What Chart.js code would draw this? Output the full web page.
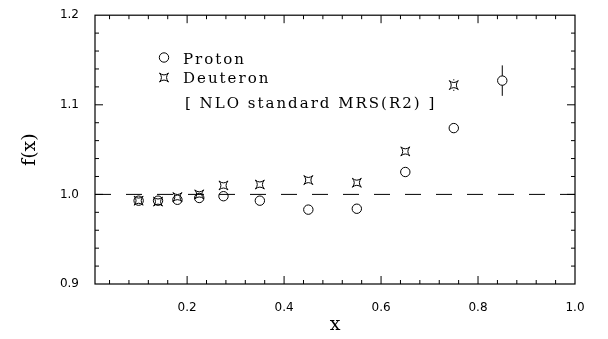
<!DOCTYPE html>
<html>
<head>
<meta charset="utf-8">
<script src="https://cdn.jsdelivr.net/npm/chart.js@4.4.1/dist/chart.umd.min.js"></script>
<style>
  html, body { margin: 0; padding: 0; background: #fff; }
  #wrap { width: 608px; height: 339px; }
</style>
</head>
<body>
<div id="wrap"><canvas id="fxChart" width="608" height="339"></canvas></div>
<script>
// x values of the measurements
const protonX = [0.10, 0.14, 0.18, 0.225, 0.275, 0.35, 0.45, 0.55, 0.65, 0.75, 0.85];
const protonF = [0.993, 0.993, 0.994, 0.996, 0.998, 0.993, 0.983, 0.984, 1.025, 1.074, 1.127];
const protonErr = [0, 0, 0, 0, 0, 0, 0, 0, 0, 0, 0.017];

const deuteronX = [0.10, 0.14, 0.18, 0.225, 0.275, 0.35, 0.45, 0.55, 0.65, 0.75];
const deuteronF = [0.993, 0.992, 0.997, 1.000, 1.010, 1.011, 1.016, 1.013, 1.048, 1.122];
const deuteronErr = [0, 0, 0, 0, 0, 0, 0, 0, 0, 0.0065];

// reference line f(x) = 1
const refX = [0.01, 1.0];
const refF = [1.0, 1.0];

const xTickLabels = [0.2, 0.4, 0.6, 0.8, 1.0];
const yTickLabels = [0.9, 1.0, 1.1, 1.2];

const legendLabels = ['Proton', 'Deuteron'];
const noteText = '[ NLO standard MRS(R2) ]';

const ink = '#000';
const R = 4.7;

function pts(xs, ys) {
    return xs.map((x, i) => ({x: x, y: ys[i]}));
}

// concave square marker used for the deuteron
function drawStar(ctx, cx, cy) {
    const a = 4.5, c = 0.6;
    ctx.beginPath();
    ctx.moveTo(cx - a, cy - a);
    ctx.quadraticCurveTo(cx, cy - c, cx + a, cy - a);
    ctx.quadraticCurveTo(cx + c, cy, cx + a, cy + a);
    ctx.quadraticCurveTo(cx, cy + c, cx - a, cy + a);
    ctx.quadraticCurveTo(cx - c, cy, cx - a, cy - a);
    ctx.stroke();
}

const frameTicks = {
    id: 'frameTicks',
    afterDraw(chart) {
        const {ctx, chartArea: a, scales: {x, y}} = chart;
        ctx.save();
        ctx.strokeStyle = ink;
        ctx.lineWidth = 1.2;
        ctx.strokeRect(a.left, a.top, a.right - a.left, a.bottom - a.top);
        ctx.lineWidth = 1;
        ctx.beginPath();
        for (let k = 1; k <= 24; k++) {
            const v = k * 0.04;
            const px = x.getPixelForValue(v);
            const len = (k % 5 === 0) ? 8 : 4;
            ctx.moveTo(px, a.bottom); ctx.lineTo(px, a.bottom - len);
            ctx.moveTo(px, a.top); ctx.lineTo(px, a.top + len);
        }
        for (let k = 1; k < 15; k++) {
            const v = 0.9 + k * 0.02;
            const py = y.getPixelForValue(v);
            const len = (k % 5 === 0) ? 8 : 4;
            ctx.moveTo(a.left, py); ctx.lineTo(a.left + len, py);
            ctx.moveTo(a.right, py); ctx.lineTo(a.right - len, py);
        }
        ctx.stroke();
        ctx.restore();
    }
};

// deuteron markers + error bars, placed from the dataset elements
const markers = {
    id: 'markers',
    afterDatasetsDraw(chart) {
        const {ctx, scales: {x, y}} = chart;
        ctx.save();
        ctx.strokeStyle = ink;
        ctx.lineWidth = 1;
        chart.getDatasetMeta(2).data.forEach(el => drawStar(ctx, el.x, el.y));

        const sets = [[protonX, protonF, protonErr], [deuteronX, deuteronF, deuteronErr]];
        ctx.beginPath();
        sets.forEach(([xs, fs, es]) => {
            xs.forEach((xv, i) => {
                if (!es[i]) return;
                const px = x.getPixelForValue(xv);
                const py = y.getPixelForValue(fs[i]);
                const top = y.getPixelForValue(fs[i] + es[i]);
                const bot = y.getPixelForValue(fs[i] - es[i]);
                ctx.moveTo(px, top); ctx.lineTo(px, Math.min(py - R, bot));
                ctx.moveTo(px, Math.max(py + R, top)); ctx.lineTo(px, bot);
            });
        });
        ctx.stroke();
        ctx.restore();
    }
};

const notes = {
    id: 'notes',
    afterDraw(chart) {
        const ctx = chart.ctx;
        ctx.save();
        ctx.strokeStyle = ink;
        ctx.fillStyle = ink;
        ctx.lineWidth = 1;
        ctx.beginPath();
        ctx.arc(164, 57.5, R, 0, Math.PI * 2);
        ctx.stroke();
        drawStar(ctx, 164, 77.5);
        ctx.font = '15px "DejaVu Serif"';
        ctx.letterSpacing = '2px';
        ctx.textBaseline = 'alphabetic';
        ctx.fillText(legendLabels[0], 183, 63.5);
        ctx.fillText(legendLabels[1], 183, 83);
        ctx.fillText(noteText, 185, 107.5);
        ctx.restore();
    }
};

const ctx = document.getElementById('fxChart').getContext('2d');

new Chart(ctx, {
    type: 'scatter',
    data: {
        datasets: [
            {
                label: 'f = 1',
                type: 'line',
                data: pts(refX, refF),
                borderColor: ink,
                borderWidth: 1,
                borderDash: [16, 15],
                pointRadius: 0,
                fill: false
            },
            {
                label: legendLabels[0],
                data: pts(protonX, protonF),
                pointStyle: 'circle',
                pointRadius: R,
                borderColor: ink,
                borderWidth: 1,
                backgroundColor: 'rgba(0,0,0,0)'
            },
            {
                label: legendLabels[1],
                data: pts(deuteronX, deuteronF),
                pointRadius: 0,
                borderColor: ink,
                backgroundColor: 'rgba(0,0,0,0)'
            }
        ]
    },
    options: {
        responsive: false,
        animation: false,
        events: [],
        layout: {padding: {top: 12, right: 33, left: 0, bottom: 0}},
        plugins: {
            legend: {display: false},
            tooltip: {enabled: false}
        },
        scales: {
            x: {
                type: 'linear',
                min: 0.01,
                max: 1.0,
                afterFit: s => { s.height = 55; },
                afterBuildTicks: s => { s.ticks = xTickLabels.map(v => ({value: v})); },
                grid: {display: false},
                border: {display: false},
                ticks: {
                    color: ink,
                    padding: 9,
                    font: {family: 'DejaVu Sans', size: 12},
                    maxRotation: 0,
                    callback: v => v.toFixed(1)
                },
                title: {
                    display: true,
                    text: 'x',
                    color: ink,
                    font: {family: 'DejaVu Serif', size: 19},
                    padding: {top: 0, bottom: 3}
                }
            },
            y: {
                min: 0.9,
                max: 1.2,
                afterFit: s => { s.width = 95; },
                afterBuildTicks: s => { s.ticks = yTickLabels.map(v => ({value: v})); },
                grid: {display: false},
                border: {display: false},
                ticks: {
                    color: ink,
                    padding: 8,
                    font: {family: 'DejaVu Sans', size: 12},
                    callback: v => v.toFixed(1)
                },
                title: {
                    display: true,
                    text: 'f(x)',
                    color: ink,
                    font: {family: 'DejaVu Serif', size: 19},
                    padding: {top: 19, bottom: 0}
                }
            }
        }
    },
    plugins: [frameTicks, markers, notes]
});
</script>
</body>
</html>
